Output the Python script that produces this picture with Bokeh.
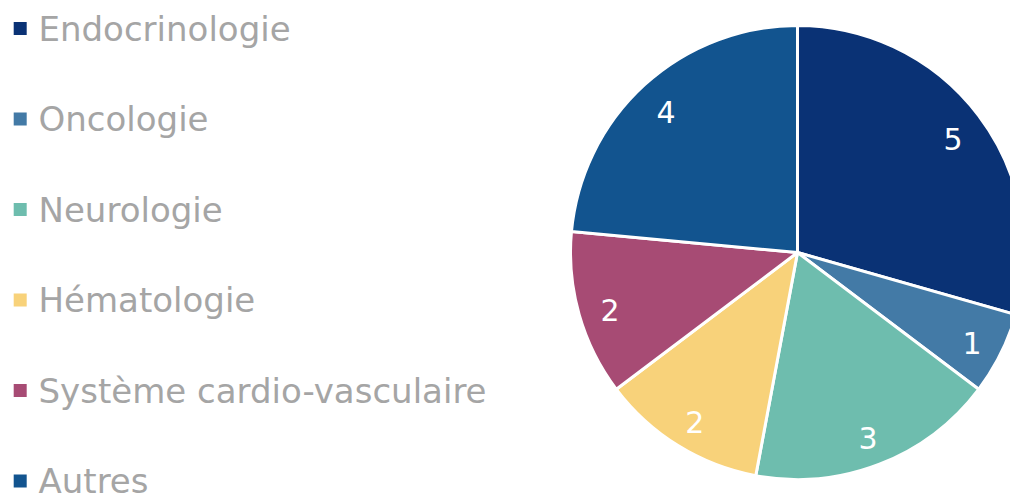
import numpy as np
from bokeh.plotting import figure
from bokeh.models import ColumnDataSource, Range1d
from bokeh.core.properties import value
from bokeh.embed import file_html
from bokeh.resources import INLINE

# ---- data ----
categories = ["Endocrinologie", "Oncologie", "Neurologie", "Hématologie",
              "Système cardio-vasculaire", "Autres"]
counts = [5, 1, 3, 2, 2, 4]
colors = ["#0a3275", "#437aa6", "#6ebdae", "#f8d27a", "#a74b74", "#12548f"]

# ---- layout (screen pixels) ----
W, H = 1010, 495
def Y(sy):  # screen y -> data y
    return H - sy

cx, cy = 797, Y(252)
R = 227
label_r = 195

vals = np.array(counts, dtype=float)
total = vals.sum()
frac = vals / total
cum = np.concatenate([[0], np.cumsum(frac)])
start = np.pi / 2 - cum[:-1] * 2 * np.pi
end = np.pi / 2 - cum[1:] * 2 * np.pi
mid = (start + end) / 2

src = ColumnDataSource(dict(
    start=start, end=end, color=colors, cat=categories,
    lx=cx + label_r * np.cos(mid), ly=cy + label_r * np.sin(mid),
    lab=[str(c) for c in counts],
))

p = figure(width=W, height=H, output_backend="svg", toolbar_location=None,
           x_range=Range1d(0, W), y_range=Range1d(0, H),
           min_border=0, min_border_left=0, min_border_right=0,
           min_border_top=0, min_border_bottom=0)
p.axis.visible = False
p.grid.visible = False
p.outline_line_color = None
p.background_fill_color = "white"
p.border_fill_color = "white"

p.wedge(x=cx, y=cy, radius=R, radius_units="screen",
        start_angle="start", end_angle="end", direction="clock",
        fill_color="color", line_color="white", line_width=3, source=src)

p.text(x="lx", y="ly", text="lab", source=src, text_color="white",
       text_font=value("DejaVu Sans"), text_font_size="30px",
       text_align="center", text_baseline="middle", y_offset=4)

# legend (manual)
n = len(categories)
row_sy = 28 + np.arange(n) * 90.5
leg = ColumnDataSource(dict(
    sx=[19.7] * n, sy=[Y(s) for s in row_sy],
    tx=[38] * n, ty=[Y(s) for s in row_sy],
    color=colors, cat=categories,
))
p.scatter(x="sx", y="sy", marker="square", size=13, fill_color="color",
          line_color=None, source=leg)
p.text(x="tx", y="ty", text="cat", source=leg, text_color="#a5a5a5",
       text_font=value("DejaVu Sans"), text_font_size="34px",
       text_align="left", text_baseline="middle")

open("out.html", "w").write(file_html(p, INLINE))
